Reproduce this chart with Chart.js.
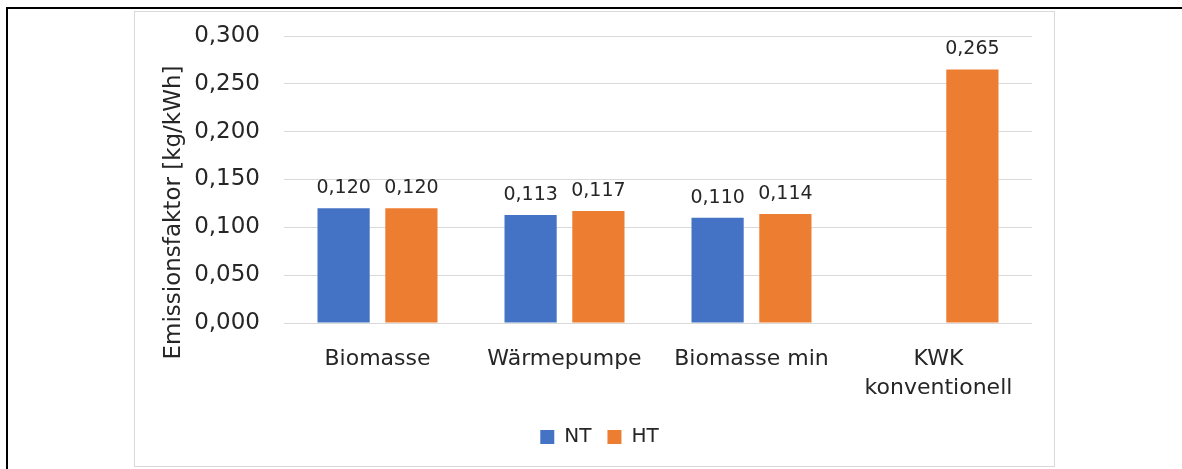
<!DOCTYPE html>
<html lang="de">
<head>
  <meta charset="UTF-8" />
  <title>Emissionsfaktoren</title>
  <script src="https://cdn.jsdelivr.net/npm/chart.js"></script>
  <style>
    body {
      margin: 0;
      width: 1182px;
      height: 469px;
      background: #fff;
      overflow: hidden;
      position: relative;
    }
    #rahmen {
      position: absolute;
      left: 6px;
      top: 7px;
      right: 0;
      bottom: 0;
      border-top: 2px solid #000;
      border-left: 2px solid #000;
    }
    #box {
      position: absolute;
      left: 134px;
      top: 11px;
      width: 919px;
      height: 454px;
      border: 1px solid #d9d9d9;
      background: #fff;
    }
  </style>
</head>
<body>
  <div id="rahmen"></div>
  <div id="box"><canvas id="chart" width="919" height="454"></canvas></div>

  <script>
    // Daten
    const kategorien = ['Biomasse', 'Wärmepumpe', 'Biomasse min', ['KWK', 'konventionell']];
    const werteNT = [0.120, 0.113, 0.110, null];
    const werteHT = [0.120, 0.117, 0.114, 0.265];
    const serien = ['NT', 'HT'];
    const achsenTitel = 'Emissionsfaktor [kg/kWh]';
    const yMin = 0, yMax = 0.3, yStep = 0.05;

    const schrift = "'DejaVu Sans', sans-serif";
    const textFarbe = '#262626';
    const fmt = v => v.toFixed(3).replace('.', ',');

    Chart.defaults.font.family = schrift;
    Chart.defaults.color = textFarbe;

    // Werte über den Balken + gedrehter Achsentitel
    const beschriftung = {
      id: 'beschriftung',
      afterLayout(chart) {
        // Legende etwas nach rechts, mittig unter der ganzen Grafik
        chart.legend.left += 16;
        chart.legend.right += 16;
      },
      afterDatasetsDraw(chart) {
        const ctx = chart.ctx;
        ctx.save();
        ctx.font = '19px ' + schrift;
        ctx.fillStyle = textFarbe;
        ctx.textAlign = 'center';
        ctx.textBaseline = 'middle';
        chart.data.datasets.forEach((ds, i) => {
          chart.getDatasetMeta(i).data.forEach((bar, j) => {
            const v = ds.data[j];
            if (v == null) return;
            ctx.fillText(fmt(v), bar.x, bar.y - 20);
          });
        });
        ctx.restore();

        const area = chart.chartArea;
        ctx.save();
        ctx.font = '23px ' + schrift;
        ctx.fillStyle = textFarbe;
        ctx.textAlign = 'center';
        ctx.textBaseline = 'middle';
        ctx.translate(39, (area.top + area.bottom) / 2 + 33);
        ctx.rotate(-Math.PI / 2);
        ctx.fillText(achsenTitel, 0, 0);
        ctx.restore();
      }
    };

    const ctx = document.getElementById('chart').getContext('2d');
    new Chart(ctx, {
      type: 'bar',
      data: {
        labels: kategorien,
        datasets: [
          {
            label: serien[0],
            data: werteNT,
            backgroundColor: '#4472c4',
            categoryPercentage: 0.725,
            barPercentage: 0.77
          },
          {
            label: serien[1],
            data: werteHT,
            backgroundColor: '#ed7d31',
            categoryPercentage: 0.725,
            barPercentage: 0.77
          }
        ]
      },
      options: {
        responsive: false,
        animation: false,
        layout: { padding: { left: 0, right: 22, top: 24, bottom: 9 } },
        plugins: {
          legend: {
            position: 'bottom',
            labels: {
              boxWidth: 14,
              boxHeight: 14,
              padding: 16,
              font: { size: 20 },
              color: textFarbe
            }
          },
          tooltip: { enabled: false }
        },
        scales: {
          x: {
            grid: { display: false, drawTicks: false },
            border: { display: false },
            ticks: {
              padding: 22,
              font: { size: 22, lineHeight: 1.3 },
              color: textFarbe,
              maxRotation: 0
            },
            afterFit(scale) { scale.height = 88; }
          },
          y: {
            min: yMin,
            max: yMax,
            // unsichtbare Tickmarken als Abstand zwischen Beschriftung und Plot
            grid: { color: '#d9d9d9', lineWidth: 1, drawTicks: true, tickLength: 24, tickColor: 'rgba(0,0,0,0)' },
            border: { display: false },
            ticks: {
              stepSize: yStep,
              padding: 0,
              font: { size: 23 },
              color: textFarbe,
              callback: v => fmt(v)
            },
            afterFit(scale) { scale.width = 149; }
          }
        }
      },
      plugins: [beschriftung]
    });
  </script>
</body>
</html>
